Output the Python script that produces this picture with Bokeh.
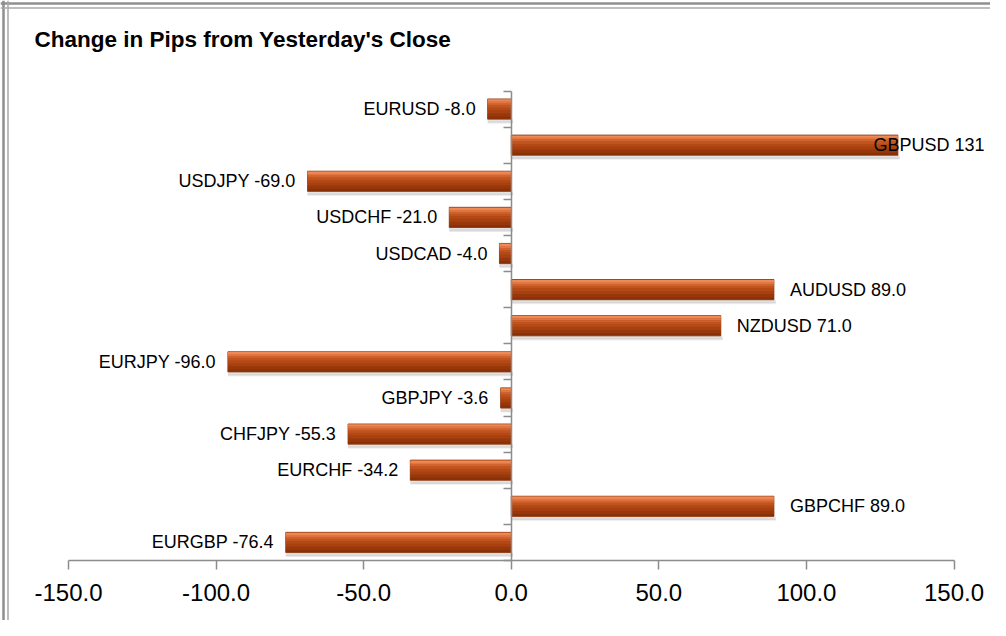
from bokeh.plotting import figure
from bokeh.models import ColumnDataSource, FixedTicker, Label, Span, NumeralTickFormatter, Range1d
from bokeh.core.properties import value
from bokeh.embed import file_html
from bokeh.resources import INLINE

# ---- data ----
pairs = ["EURUSD", "GBPUSD", "USDJPY", "USDCHF", "USDCAD", "AUDUSD", "NZDUSD",
         "EURJPY", "GBPJPY", "CHFJPY", "EURCHF", "GBPCHF", "EURGBP"]
pips = [-8.0, 131.0, -69.0, -21.0, -4.0, 89.0, 71.0, -96.0, -3.6, -55.3, -34.2, 89.0, -76.4]
value_labels = ["-8.0", "131", "-69.0", "-21.0", "-4.0", "89.0", "71.0",
                "-96.0", "-3.6", "-55.3", "-34.2", "89.0", "-76.4"]
x_ticks = [-150, -100, -50, 0, 50, 100, 150]
title_text = "Change in Pips from Yesterday's Close"

# ---- layout constants (pixels in the figure) ----
W, H = 990, 620
x_lo_px, x_hi_px = 68.0, 953.5       # pixel positions of -150 / 150
axis_px = 560                        # pixel row of the value axis
cat_top_px = 90.5
n = len(pairs)
PX_X = (x_hi_px - x_lo_px) / (x_ticks[-1] - x_ticks[0])
PX_Y = (axis_px - cat_top_px) / n

x_start = x_ticks[0] - x_lo_px / PX_X
x_end = x_start + W / PX_X
y_axis_val = -0.5
y_end = y_axis_val + axis_px / PX_Y
y_start = y_end - H / PX_Y

ys = [n - 1 - i for i in range(n)]
lefts = [min(0, v) for v in pips]
rights = [max(0, v) for v in pips]
texts = [f"{p} {t}" for p, t in zip(pairs, value_labels)]

p = figure(width=W, height=H, output_backend="svg", toolbar_location=None,
           x_range=Range1d(x_start, x_end), y_range=Range1d(y_start, y_end),
           min_border=0)
p.outline_line_color = None
p.xgrid.visible = False
p.ygrid.visible = False
p.background_fill_color = "white"
p.border_fill_color = "white"

src = ColumnDataSource(dict(y=ys, left=lefts, right=rights))

BH = 0.56
# soft shadow under the bars
for off, hh, a in [(-0.05, 0.10, 0.22), (-0.09, 0.07, 0.12)]:
    sh = ColumnDataSource(dict(y=[y - BH / 2 + off for y in ys],
                               left=lefts, right=[r + 0.6 for r in rights]))
    p.hbar(y="y", left="left", right="right", height=hh, source=sh,
           fill_color="#808080", fill_alpha=a, line_color=None)
# base bar
p.hbar(y="y", left="left", right="right", height=BH, source=src,
       fill_color="#A8410F", line_color="#8a3309", line_width=0.8)
# cylinder-like shading bands
bands = [(0.235, 0.07, "#EE8A55"), (0.18, 0.06, "#E27642"), (0.125, 0.06, "#D2622C"),
         (0.065, 0.07, "#C05420"), (0.0, 0.07, "#B34A16"),
         (-0.17, 0.10, "#983709"), (-0.24, 0.06, "#883008")]
for off, hh, col in bands:
    bs = ColumnDataSource(dict(y=[y + off for y in ys], left=lefts, right=rights))
    p.hbar(y="y", left="left", right="right", height=hh, source=bs,
           fill_color=col, line_color=None)

# value labels
neg_x, neg_y, neg_t, pos_x, pos_y, pos_t, edge_x, edge_y, edge_t = ([] for _ in range(9))
for v, y, t in zip(pips, ys, texts):
    if v < 0:
        neg_x.append(v - 12 / PX_X); neg_y.append(y); neg_t.append(t)
    elif v + (16 + 120) / PX_X > x_end:
        edge_x.append(x_start + 984 / PX_X); edge_y.append(y); edge_t.append(t)
    else:
        pos_x.append(v + 16 / PX_X); pos_y.append(y); pos_t.append(t)

font = value("Liberation Sans")
common = dict(text_font=font, text_font_size="18px", text_color="black",
              text_baseline="middle")
p.text(x=neg_x, y=neg_y, text=neg_t, text_align="right", **common)
p.text(x=pos_x, y=pos_y, text=pos_t, text_align="left", **common)
p.text(x=edge_x, y=edge_y, text=edge_t, text_align="right", **common)

# x axis (drawn inside the frame at the bottom category boundary)
xa = p.xaxis[0]
xa.fixed_location = y_axis_val
xa.ticker = FixedTicker(ticks=x_ticks)
xa.bounds = (x_ticks[0], x_ticks[-1])
xa.formatter = NumeralTickFormatter(format="0.0")
xa.axis_line_color = "#8c8c8c"
xa.axis_line_width = 1.5
xa.major_tick_line_color = "#8c8c8c"
xa.major_tick_line_width = 1.5
xa.major_tick_out = 9
xa.major_tick_in = 0
xa.minor_tick_line_color = None
xa.major_label_standoff = 14
xa.major_label_text_font = "Liberation Sans"
xa.major_label_text_font_size = "24px"
xa.major_label_text_color = "black"

# y axis at zero with ticks on category boundaries
ya = p.yaxis[0]
ya.fixed_location = 0
ya.bounds = (-0.5, n - 0.5)
ya.ticker = FixedTicker(ticks=[i - 0.5 for i in range(n + 1)])
ya.major_label_text_font_size = "0px"
ya.major_label_text_alpha = 0
ya.axis_line_color = "#8c8c8c"
ya.axis_line_width = 1.5
ya.major_tick_line_color = "#8c8c8c"
ya.major_tick_line_width = 1.5
ya.major_tick_out = 8
ya.major_tick_in = 0
ya.minor_tick_line_color = None

# chart border (double grey line on left & top)
for px, lw, col in [(3, 2.5, "#8f8f8f"), (7.5, 1.5, "#a8a8a8")]:
    p.add_layout(Span(location=x_start + px / PX_X, dimension="height",
                      line_color=col, line_width=lw))
    p.add_layout(Span(location=y_end - px / PX_Y, dimension="width",
                      line_color=col, line_width=lw))

# title
p.add_layout(Label(x=x_start + 34 / PX_X, y=y_end - 39 / PX_Y, text=title_text,
                   text_font="Liberation Sans", text_font_style="bold",
                   text_font_size="22.5px", text_baseline="middle", text_color="black"))

open("out.html", "w").write(file_html(p, INLINE))
